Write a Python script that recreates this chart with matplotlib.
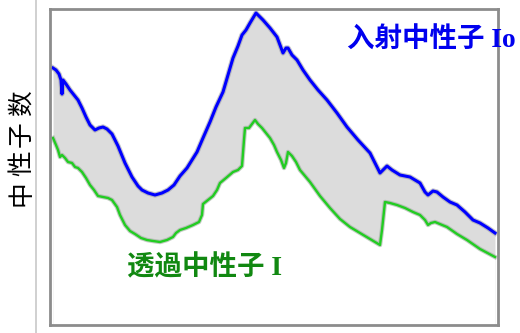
import matplotlib
matplotlib.use("Agg")
import matplotlib.pyplot as plt

# Neutron counts before / after the sample (arbitrary channel units)
# incident neutrons Io
io_x = [3, 6, 9, 11, 12, 13, 16, 20, 24, 28, 32, 36, 40, 45, 49, 53, 57, 62, 68, 75,
        82, 88, 92, 98, 105, 112, 118, 124, 130, 137, 142, 147, 153, 160, 166, 173,
        178, 183, 188, 192, 196, 200, 203, 206, 209, 213, 220, 227, 233, 236, 238,
        242, 247, 253, 260, 268, 277, 287, 297, 308, 320, 325, 330, 333, 337, 342,
        350, 360, 370, 375, 378, 383, 387, 393, 400, 407, 415, 423, 430, 438, 445]
io_y = [257, 255, 251, 245, 231, 245, 241, 235, 230, 225, 217, 208, 200, 195, 197,
        198, 196, 191, 179, 162, 148, 139, 135, 132, 130, 132, 135, 140, 149, 157,
        165, 173, 187, 203, 218, 233, 250, 267, 279, 290, 295, 302, 307, 312, 309,
        305, 297, 288, 272, 277, 277, 270, 265, 255, 245, 235, 225, 212, 198, 185,
        172, 162, 152, 155, 159, 155, 150, 148, 142, 133, 130, 134, 133, 128, 123,
        120, 113, 105, 102, 97, 92]

# transmitted neutrons I
i_x = [3, 6, 8, 10, 12, 15, 18, 22, 25, 28, 32, 36, 40, 44, 48, 53, 58, 62, 67, 70,
       75, 80, 85, 91, 97, 103, 110, 117, 123, 126, 130, 136, 143, 149, 152, 153,
       158, 163, 167, 170, 176, 183, 188, 192, 194, 195, 199, 202, 205, 208, 212,
       216, 220, 224, 227, 231, 234, 236, 238, 242, 246, 250, 260, 270, 280, 290,
       300, 310, 320, 330, 332, 335, 340, 347, 355, 363, 370, 375, 378, 381, 385,
       397, 407, 417, 430, 445]
i_y = [187, 180, 175, 168, 170, 167, 163, 162, 158, 157, 153, 147, 140, 135, 129,
       128, 127, 125, 118, 110, 100, 94, 91, 87, 85, 84, 83, 85, 88, 92, 95, 97,
       100, 103, 110, 121, 125, 129, 135, 142, 147, 153, 155, 159, 185, 197, 197,
       201, 205, 201, 197, 192, 187, 180, 173, 165, 157, 162, 173, 169, 163, 155,
       143, 129, 117, 106, 98, 92, 86, 80, 95, 123, 122, 120, 117, 113, 110, 105,
       100, 102, 103, 98, 91, 85, 76, 68]

LABEL_IO = "入射中性子 Io"
LABEL_I = "透過中性子 I"
Y_LABEL = "中性子数"

BLUE = "#0000ff"
GREEN = "#22cc22"
FILL = "#dcdcdc"

fig = plt.figure(figsize=(5.2, 3.33), dpi=100)
ax = fig.add_axes([50 / 520, 8 / 333, 448 / 520, 316 / 333])

ax.fill_between(io_x, io_y, [0] * len(io_y), color=FILL, lw=0, zorder=1)
ax.fill_between(i_x, i_y, [0] * len(i_y), color="white", lw=0, zorder=1)

# soft grey halo under each curve
ax.plot(io_x, io_y, color="#9a9aaa", lw=3.8, alpha=0.6, zorder=2, solid_joinstyle="round")
ax.plot(i_x, i_y, color="#9aaa9a", lw=3.2, alpha=0.6, zorder=2, solid_joinstyle="round")
ax.plot(io_x, io_y, color=BLUE, lw=2.2, zorder=3, solid_joinstyle="round")
ax.plot(i_x, i_y, color=GREEN, lw=1.7, zorder=3, solid_joinstyle="round")

ax.set_xlim(0, 448)
ax.set_ylim(0, 316)
ax.set_xticks([])
ax.set_yticks([])
for sp in ax.spines.values():
    sp.set_color("#8c8c8c")
    sp.set_linewidth(2.0)
    sp.set_zorder(4)

mixed = ["Liberation Serif", "Noto Sans CJK SC", "DejaVu Sans"]
fig.text(347 / 520, 1 - 41 / 333, LABEL_IO, color="#0000ee", fontsize=19.8,
         fontweight="bold", family=mixed, ha="left", va="center", zorder=10)
fig.text(127 / 520, 1 - 268 / 333, LABEL_I, color="#118811", fontsize=19.8,
         fontweight="bold", family=mixed, ha="left", va="center", zorder=10)

# vertical axis label, one glyph at a time for the wide spacing
for ch, yc in zip(Y_LABEL, [193, 163, 134, 103]):
    fig.text(22 / 520, 1 - yc / 333, ch, rotation=90, fontsize=18.5,
             family=["Noto Sans CJK SC", "DejaVu Sans"], ha="center", va="center")

fig.add_artist(plt.Line2D([35.5 / 520, 35.5 / 520], [0, 1], color="#c8c8c8", lw=1.2))

fig.savefig("out.png", dpi=100)
